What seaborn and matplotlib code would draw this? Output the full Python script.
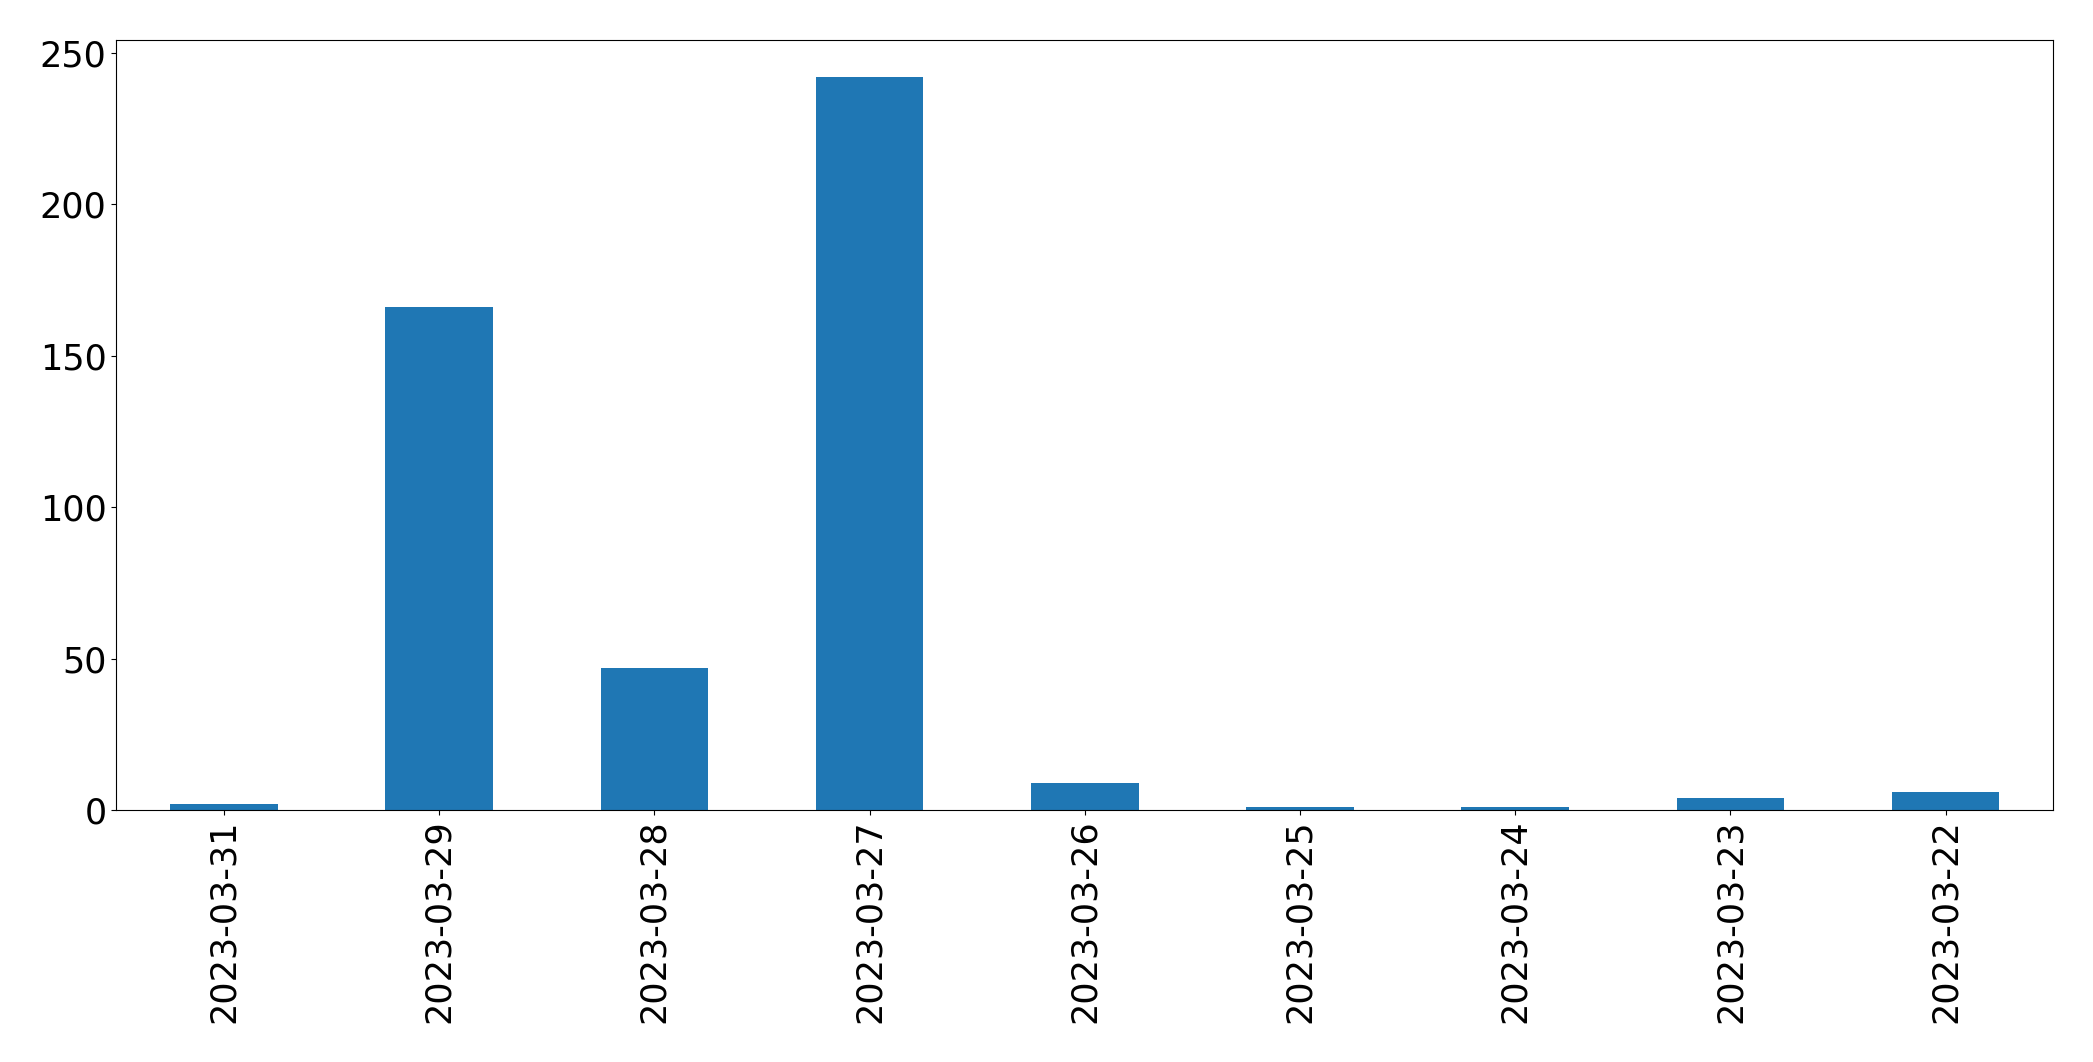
import matplotlib
matplotlib.use("Agg")
import matplotlib.pyplot as plt
import seaborn as sns
import pandas as pd

dates = ["2023-03-31", "2023-03-29", "2023-03-28", "2023-03-27", "2023-03-26",
         "2023-03-25", "2023-03-24", "2023-03-23", "2023-03-22"]
counts = [2, 166, 47, 242, 9, 1, 1, 4, 6]

df = pd.DataFrame({"date": dates, "count": counts})

W, H = 2093, 1062
fig = plt.figure(figsize=(W / 100, H / 100), dpi=100)
left, right, top, bottom = 116.3, 2053.3, 40.3, 810.0
ax = fig.add_axes([left / W, 1 - bottom / H, (right - left) / W, (bottom - top) / H])
sns.barplot(data=df, x="date", y="count", order=dates, color="#1f77b4",
            saturation=1, width=0.5, ax=ax)
ax.set_xlim(-0.5, len(dates) - 0.5)
ax.set_ylim(0, max(counts) * 1.05)
ax.set_xlabel("")
ax.set_ylabel("")
ax.tick_params(axis="both", labelsize=25.2)
ax.tick_params(axis="x", labelrotation=90)
fig.savefig("out.png", dpi=100)
